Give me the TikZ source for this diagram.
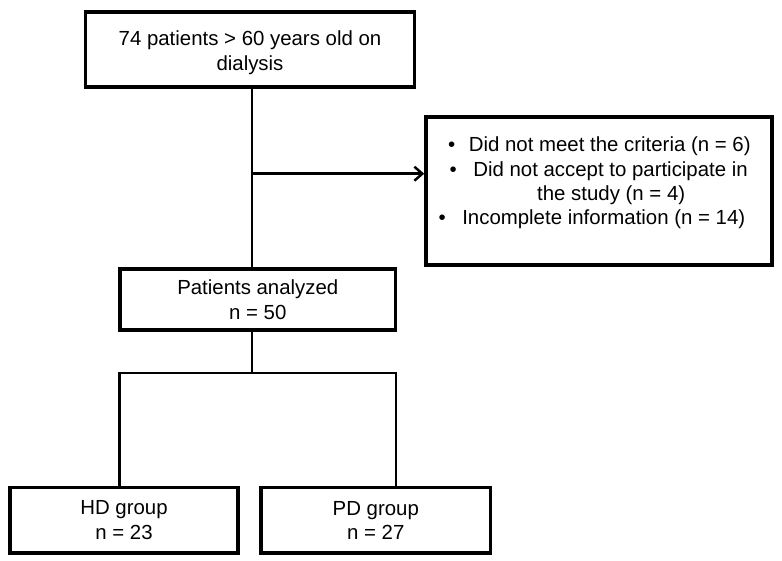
\documentclass[tikz,border=0pt]{standalone}
\usepackage{fontspec}
\setmainfont{Liberation Sans}
\usetikzlibrary{arrows.meta}
\begin{document}
\begin{tikzpicture}[x=1pt,y=-1pt,
  box/.style={draw, line width=3.5pt, align=center, inner sep=0pt,
    font=\fontsize{20.4}{24.5}\selectfont},
  txt/.style={align=left, inner sep=0pt, font=\fontsize{20.4}{24.3}\selectfont},
  conn/.style={line width=2.5pt},
  arr/.style={conn, -{Straight Barb[length=8pt,width=14pt,line width=2.5pt]}}]
\useasboundingbox (0,0) rectangle (782,560);
\node[box, minimum width=329pt, minimum height=75pt] (start) at (250,49.5)
  {\rule{0pt}{21pt}74 patients > 60 years old on\\dialysis};
\node[box, minimum width=346pt, minimum height=148pt] (excl) at (599,191) {};
\node[txt, anchor=north west] (excltext) at (438.5,137)
  {\hspace*{9.5pt}•\hspace{13.5pt}Did not meet the criteria (n = 6)\\
   \hspace*{11pt}•\hspace{16.5pt}Did not accept to participate in\\
   \hspace*{98.5pt}the study (n = 4)\\
   •\hspace{16.5pt}Incomplete information (n = 14)};
\node[box, minimum width=275.5pt, minimum height=61pt] (anal) at (257.8,299.5)
  {Patients analyzed\\n = 50};
\node[box, minimum width=228pt, minimum height=65.3pt] (hd) at (124,520.3)
  {HD group\\n = 23};
\node[box, minimum width=229.7pt, minimum height=65.3pt] (pd) at (375.8,520.3)
  {PD group\\n = 27};
\coordinate (mid) at (252,173.7);
\coordinate (split) at (252,373);
\draw[conn] (start.south -| mid) -- (anal.north -| mid);
\draw[arr] (mid) -- (excl.west |- mid);
\draw[conn] (anal.south -| split) -- (split);
\draw[conn] (split) -- (split -| 119.5,0) -- (hd.north -| 119.5,0);
\draw[conn] (split) -- (split -| 396,0) -- (pd.north -| 396,0);
\end{tikzpicture}
\end{document}
